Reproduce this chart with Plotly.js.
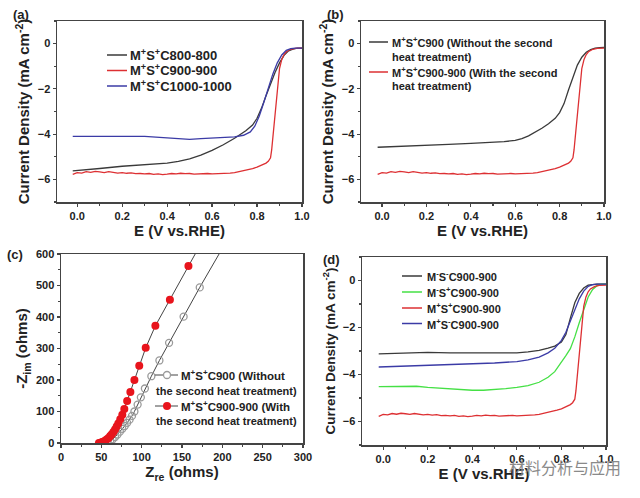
<!DOCTYPE html>
<html>
<head>
<meta charset="utf-8">
<script src="https://cdn.plot.ly/plotly-3.0.1.min.js"></script>
<style>html,body{margin:0;padding:0;background:#fff;}#chart{width:640px;height:498px;}</style>
</head>
<body>
<div id="chart"></div>
<script>
// ---------- DATA ----------
// Panel (a)
const aC800E = [-0.02, 0.05, 0.1, 0.2, 0.3, 0.4, 0.45, 0.5, 0.55, 0.6, 0.65, 0.7, 0.75, 0.78, 0.8, 0.82, 0.84, 0.86, 0.88, 0.9, 0.92, 0.94, 0.96, 0.98, 1.0];
const aC800J = [-5.62, -5.57, -5.52, -5.42, -5.35, -5.28, -5.2, -5.09, -4.93, -4.72, -4.47, -4.18, -3.85, -3.6, -3.3, -2.85, -2.3, -1.78, -1.28, -0.85, -0.52, -0.32, -0.24, -0.2, -0.2];
const aC1000E = [-0.02, 0.05, 0.1, 0.2, 0.3, 0.4, 0.5, 0.55, 0.6, 0.65, 0.7, 0.74, 0.77, 0.79, 0.81, 0.83, 0.85, 0.87, 0.89, 0.91, 0.93, 0.95, 0.97, 1.0];
const aC1000J = [-4.1, -4.1, -4.09, -4.07, -4.1, -4.17, -4.23, -4.2, -4.17, -4.15, -4.12, -4.05, -3.9, -3.65, -3.2, -2.6, -1.95, -1.35, -0.85, -0.5, -0.3, -0.22, -0.2, -0.2];
// M+S+C900-900 (shared in a, b, d)
const redE = [-0.02, 0, 0.02, 0.04, 0.06, 0.08, 0.1, 0.12, 0.14, 0.16, 0.18, 0.2, 0.22, 0.24, 0.26, 0.28, 0.3, 0.32, 0.34, 0.36, 0.38, 0.4, 0.42, 0.44, 0.46, 0.48, 0.5, 0.52, 0.54, 0.56, 0.58, 0.6, 0.62, 0.64, 0.66, 0.68, 0.7, 0.72, 0.74, 0.76, 0.78, 0.8, 0.82, 0.84, 0.85, 0.86, 0.865, 0.87, 0.875, 0.88, 0.885, 0.89, 0.895, 0.9, 0.91, 0.92, 0.93, 0.94, 0.95, 0.97, 1.0];
const redJ = [-5.78, -5.7, -5.72, -5.66, -5.69, -5.65, -5.67, -5.7, -5.66, -5.69, -5.72, -5.7, -5.73, -5.71, -5.75, -5.74, -5.76, -5.74, -5.78, -5.76, -5.79, -5.77, -5.74, -5.76, -5.73, -5.75, -5.74, -5.77, -5.75, -5.76, -5.74, -5.76, -5.75, -5.77, -5.74, -5.72, -5.7, -5.66, -5.62, -5.57, -5.52, -5.46, -5.38, -5.28, -5.2, -5.05, -4.7, -4.2, -3.6, -3.0, -2.4, -1.9, -1.45, -1.1, -0.7, -0.48, -0.36, -0.29, -0.25, -0.21, -0.2];
// Panel (b)
const bC900E = [-0.02, 0.1, 0.2, 0.3, 0.4, 0.5, 0.55, 0.6, 0.63, 0.66, 0.69, 0.72, 0.75, 0.78, 0.8, 0.82, 0.84, 0.86, 0.88, 0.9, 0.92, 0.94, 0.96, 0.98, 1.0];
const bC900J = [-4.58, -4.52, -4.48, -4.45, -4.41, -4.37, -4.33, -4.28, -4.2, -4.08, -3.92, -3.74, -3.54, -3.3, -3.05, -2.65, -2.05, -1.45, -0.95, -0.6, -0.38, -0.26, -0.2, -0.18, -0.17];
// Panel (c) Nyquist
const cOpenZre = [58, 61, 64, 67, 70, 73, 76, 79, 82, 85, 88, 91, 95, 99, 104, 112, 122, 134, 152, 172, 205];
const cOpenZim = [2, 6, 12, 19, 27, 36, 45, 54, 64, 74, 86, 100, 122, 145, 173, 212, 262, 318, 401, 494, 640];
const cRedZre = [47, 49, 51, 53, 55, 57, 59, 61, 63, 65, 67, 69, 71, 73.5, 76, 78.5, 82, 86, 91, 97, 105, 117, 135, 158, 175];
const cRedZim = [0, 1, 3, 5, 8, 12, 16, 22, 28, 35, 43, 52, 62, 75, 90, 108, 133, 162, 200, 245, 302, 372, 455, 562, 640];
// Panel (d)
const dMmSmE = [-0.02, 0.1, 0.2, 0.3, 0.4, 0.5, 0.6, 0.65, 0.7, 0.74, 0.77, 0.8, 0.82, 0.84, 0.86, 0.88, 0.9, 0.92, 0.94, 0.96, 1.0];
const dMmSmJ = [-3.12, -3.08, -3.06, -3.08, -3.09, -3.1, -3.08, -3.04, -2.97, -2.88, -2.79, -2.62, -2.3, -1.6, -0.95, -0.55, -0.32, -0.2, -0.16, -0.15, -0.15];
const dMmSpE = [-0.02, 0.05, 0.1, 0.15, 0.2, 0.25, 0.3, 0.35, 0.4, 0.45, 0.5, 0.55, 0.6, 0.65, 0.7, 0.74, 0.77, 0.8, 0.82, 0.84, 0.86, 0.88, 0.9, 0.92, 0.94, 0.96, 0.98, 1.0];
const dMmSpJ = [-4.52, -4.5, -4.49, -4.5, -4.55, -4.58, -4.62, -4.65, -4.67, -4.67, -4.65, -4.6, -4.55, -4.47, -4.33, -4.12, -3.88, -3.5, -3.2, -2.9, -2.4, -1.8, -1.2, -0.7, -0.38, -0.22, -0.16, -0.15];
const dMpSmE = [-0.02, 0.1, 0.2, 0.3, 0.4, 0.5, 0.6, 0.65, 0.7, 0.74, 0.77, 0.8, 0.82, 0.84, 0.86, 0.88, 0.9, 0.92, 0.94, 0.96, 1.0];
const dMpSmJ = [-3.68, -3.64, -3.61, -3.58, -3.55, -3.51, -3.45, -3.38, -3.26, -3.08, -2.88, -2.55, -2.2, -1.75, -1.25, -0.78, -0.45, -0.25, -0.18, -0.15, -0.15];

// Labels
const namesA = ['M<sup>+</sup>S<sup>+</sup>C800-800', 'M<sup>+</sup>S<sup>+</sup>C900-900', 'M<sup>+</sup>S<sup>+</sup>C1000-1000'];
const namesB = [['M<sup>+</sup>S<sup>+</sup>C900 (Without the second', 'heat treatment)'], ['M<sup>+</sup>S<sup>+</sup>C900-900 (With the second', 'heat treatment)']];
const namesC = [['M<sup>+</sup>S<sup>+</sup>C900 (Without', 'the second heat treatment)'], ['M<sup>+</sup>S<sup>+</sup>C900-900 (With', 'the second heat treatment)']];
const namesD = ['M<sup>-</sup>S<sup>-</sup>C900-900', 'M<sup>-</sup>S<sup>+</sup>C900-900', 'M<sup>+</sup>S<sup>+</sup>C900-900', 'M<sup>+</sup>S<sup>-</sup>C900-900'];
const lsvTickVals = [0, 0.2, 0.4, 0.6, 0.8, 1.0];
const lsvTickText = ['0.0', '0.2', '0.4', '0.6', '0.8', '1.0'];

// ---------- STYLE ----------
const FONT = 'Arial, "Liberation Sans", sans-serif';
const BLACK = '#3a3a3a', RED = '#dd3033', BLUE = '#3b3ba6', GREEN = '#45e045';
const OPENC = '#9a9a9a', REDM = '#e8141c';

function ln(x, y, color, name, xa, ya) {
  return {x: x, y: y, type: 'scatter', mode: 'lines', name: name,
    line: {color: color, width: 1.3}, xaxis: xa, yaxis: ya};
}

const traces = [
  ln(aC800E, aC800J, BLACK, namesA[0], 'x', 'y'),
  ln(redE, redJ, RED, namesA[1], 'x', 'y'),
  ln(aC1000E, aC1000J, BLUE, namesA[2], 'x', 'y'),
  ln(bC900E, bC900J, BLACK, namesB[0][0], 'x2', 'y2'),
  ln(redE, redJ, RED, namesB[1][0], 'x2', 'y2'),
  {x: cOpenZre, y: cOpenZim, type: 'scatter', mode: 'lines+markers', name: namesC[0][0],
    line: {color: '#444', width: 1}, marker: {symbol: 'circle-open', size: 7, color: OPENC, line: {width: 1.3}},
    xaxis: 'x3', yaxis: 'y3'},
  {x: cRedZre, y: cRedZim, type: 'scatter', mode: 'lines+markers', name: namesC[1][0],
    line: {color: '#444', width: 1}, marker: {symbol: 'circle', size: 8, color: REDM},
    xaxis: 'x3', yaxis: 'y3'},
  ln(dMmSmE, dMmSmJ, BLACK, namesD[0], 'x4', 'y4'),
  ln(dMmSpE, dMmSpJ, GREEN, namesD[1], 'x4', 'y4'),
  ln(redE, redJ, RED, namesD[2], 'x4', 'y4'),
  ln(dMpSmE, dMpSmJ, BLUE, namesD[3], 'x4', 'y4')
];

function axis(extra) {
  return Object.assign({
    showline: true, mirror: true, linecolor: '#444', linewidth: 1.5,
    ticks: 'outside', ticklen: 3, tickwidth: 1.2, tickcolor: '#444',
    showgrid: false, zeroline: false, fixedrange: true,
    tickfont: {family: FONT, size: 11, color: '#222', weight: 'bold'}
  }, extra);
}
function ttl(text, standoff, size) {
  return {text: text, standoff: standoff, font: {family: FONT, size: size || 15, color: '#222', weight: 'bold'}};
}
const lsvX = (dom, anchor) => axis({domain: dom, anchor: anchor, range: [-0.095, 1.0],
  tickvals: lsvTickVals, ticktext: lsvTickText,
  minor: {dtick: 0.1, tick0: 0, ticks: 'outside', ticklen: 2, tickcolor: '#444', showgrid: false},
  title: ttl('E (V vs.RHE)', 5)});
const lsvY = (dom, anchor, size) => axis({domain: dom, anchor: anchor, range: [-7, 1], dtick: 2, tick0: 0,
  minor: {dtick: 1, ticks: 'outside', ticklen: 2, tickcolor: '#444', showgrid: false},
  title: ttl('Current Density (mA cm<sup>-2</sup>)', 4, size)});

const W = 640, H = 498;
const px = v => v / W, py = v => 1 - v / H;

const ann = (text, x, y, size, extra) => Object.assign({text: text, x: px(x), y: py(y), xref: 'paper', yref: 'paper',
  xanchor: 'left', yanchor: 'middle', showarrow: false, borderpad: 0,
  font: {family: FONT, size: size, color: '#222', weight: 'bold'}}, extra || {});
const keyLine = (x0, x1, y, color, w) => ({type: 'line', xref: 'paper', yref: 'paper',
  x0: px(x0), x1: px(x1), y0: py(y), y1: py(y), line: {color: color, width: w || 1.5}});
const keyDot = (cx, cy, r, fill, stroke) => ({type: 'circle', xref: 'paper', yref: 'paper',
  x0: px(cx - r), x1: px(cx + r), y0: py(cy + r), y1: py(cy - r),
  fillcolor: fill, line: {color: stroke, width: stroke === fill ? 0 : 1.3}});

// legend keys (layout only)
const legA = {x0: 107, x1: 127, tx: 129, rows: [55, 70.5, 86], colors: [BLACK, RED, BLUE], size: 13};
const legD = {x0: 402, x1: 422, tx: 426, rows: [276, 292, 308, 323.5], colors: [BLACK, GREEN, RED, BLUE], size: 11};

const shapes = [];
const annotations = [];
legA.rows.forEach((y, i) => { shapes.push(keyLine(legA.x0, legA.x1, y, legA.colors[i])); annotations.push(ann(namesA[i], legA.tx, y, legA.size)); });
legD.rows.forEach((y, i) => { shapes.push(keyLine(legD.x0, legD.x1, y, legD.colors[i])); annotations.push(ann(namesD[i], legD.tx, y, legD.size)); });
// (b)
[[42, 57], [72, 86]].forEach((r, i) => {
  shapes.push(keyLine(369, 388, r[0], [BLACK, RED][i]));
  annotations.push(ann(namesB[i][0], 391, r[0], 11));
  annotations.push(ann(namesB[i][1], 391, r[1], 11));
});
// (c)
[[375, 390.5], [406, 421]].forEach((r, i) => {
  shapes.push(keyLine(155, 178, r[0], '#444', 1));
  shapes.push(i === 0 ? keyDot(167, r[0], 3.5, '#fff', OPENC) : keyDot(167, r[0], 4, REDM, REDM));
  annotations.push(ann(namesC[i][0], 180, r[0], 11.5));
  annotations.push(ann(namesC[i][1], 155, r[1], 11));
});
// panel letters + watermark
annotations.push(ann('(a)', 12, 14, 13));
annotations.push(ann('(b)', 326, 14, 13));
annotations.push(ann('(c)', 6, 254, 13));
annotations.push(ann('(d)', 322, 259, 13));
annotations.push(ann('材料分析与应用', 508, 467, 16,
  {font: {family: '"Noto Sans CJK SC", sans-serif', size: 16, color: '#8a8a8a'}}));

const layout = {
  width: W, height: H,
  margin: {l: 0, r: 0, t: 0, b: 0},
  paper_bgcolor: '#fff', plot_bgcolor: '#fff',
  font: {family: FONT, size: 11, color: '#222'},
  showlegend: false,
  xaxis: Object.assign(lsvX([px(57), px(302)], 'y'), {range: [-0.09, 1.0]}),
  yaxis: lsvY([py(202), py(21)], 'x'),
  xaxis2: lsvX([px(361), px(604)], 'y2'),
  yaxis2: lsvY([py(202), py(21)], 'x2'),
  xaxis3: axis({domain: [px(61), px(303)], anchor: 'y3', range: [0, 300], dtick: 50, tick0: 0,
    minor: {dtick: 25, ticks: 'outside', ticklen: 2, tickcolor: '#444', showgrid: false},
    title: ttl('Z<sub>re</sub> (ohms)', 5)}),
  yaxis3: axis({domain: [py(443), py(254)], anchor: 'x3', range: [0, 600], dtick: 100, tick0: 0,
    minor: {dtick: 50, ticks: 'outside', ticklen: 2, tickcolor: '#444', showgrid: false},
    title: ttl('-Z<sub>im</sub> (ohms)', 4)}),
  xaxis4: lsvX([px(362), px(606)], 'y4'),
  yaxis4: lsvY([py(445), py(257)], 'x4', 13.5),
  shapes: shapes,
  annotations: annotations
};

Plotly.newPlot('chart', traces, layout, {displayModeBar: false, staticPlot: true});
</script>
</body>
</html>
